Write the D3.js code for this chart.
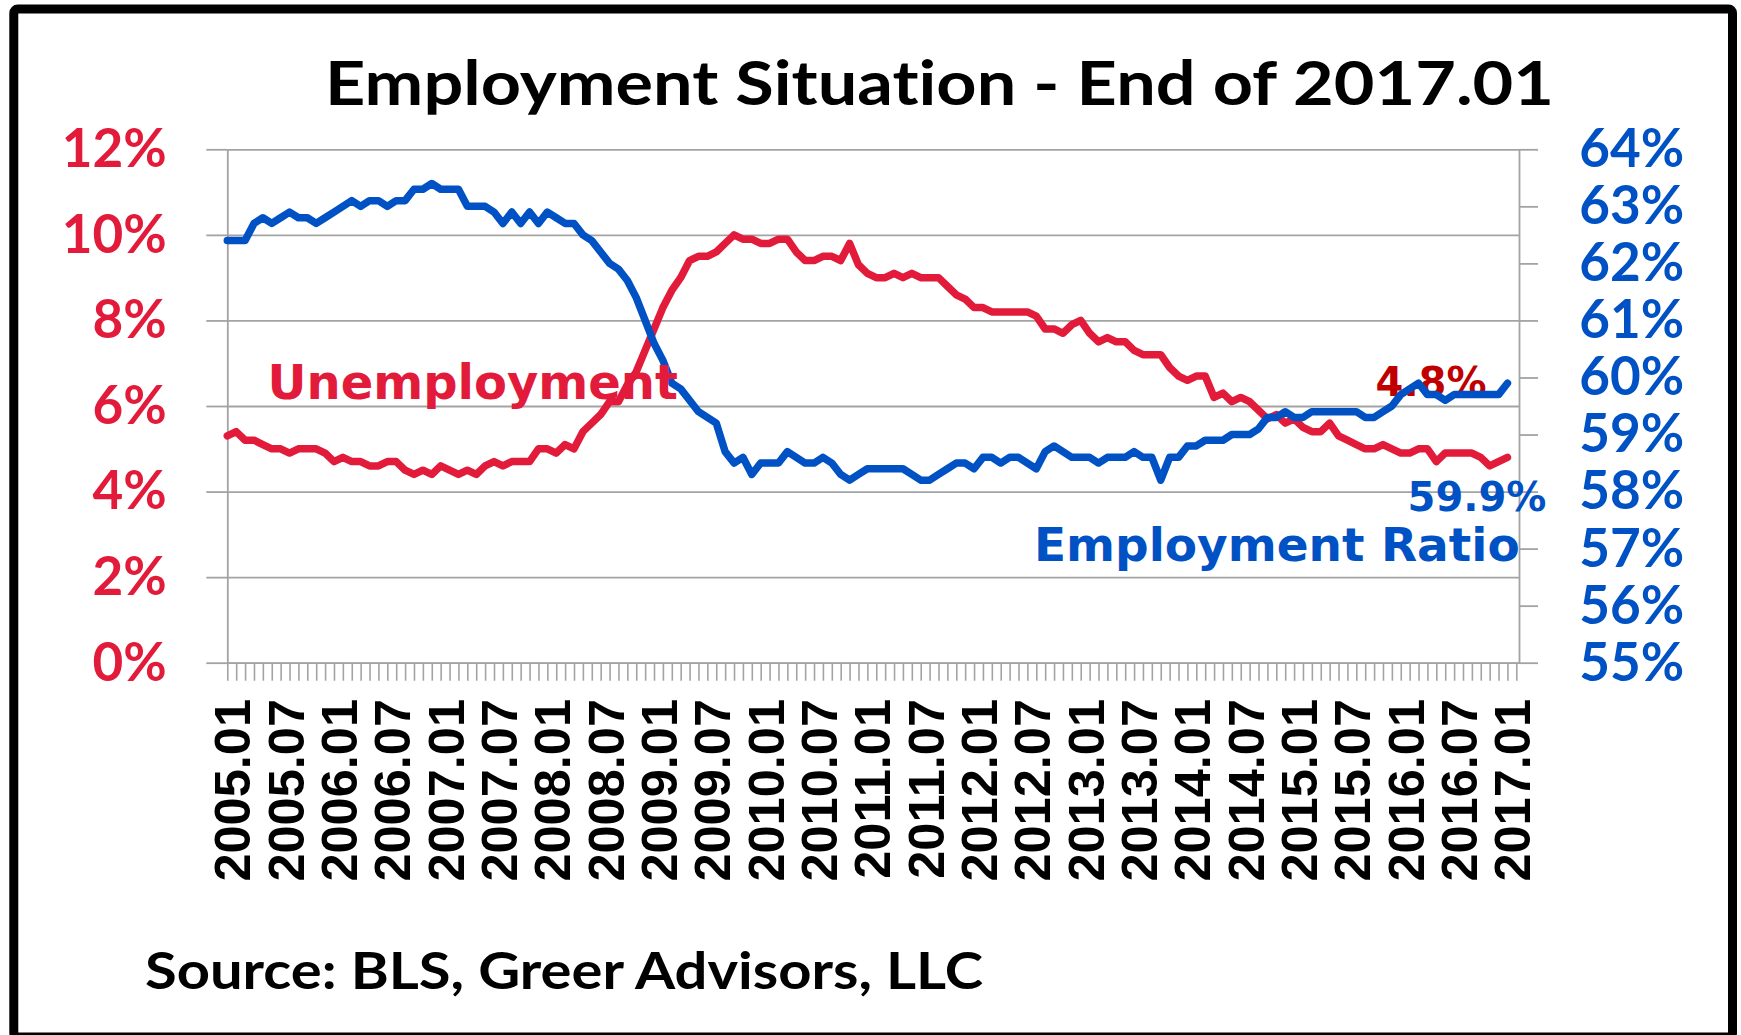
<!DOCTYPE html>
<html>
<head>
<meta charset="utf-8">
<script src="https://cdn.jsdelivr.net/npm/d3@7"></script>
<style>
  html, body { margin: 0; padding: 0; background: #fff; }
  svg { display: block; }
  text { font-variant-ligatures: none; }
</style>
</head>
<body>
<svg id="chart" width="1741" height="1035"></svg>
<script>
// colours
const RED = '#e31b3b';
const DARK_RED = '#c00000';
const BLUE = '#0052c4';
const GRID = '#a3a3a3';

// monthly categories, 2005.01 .. 2017.01
const categories = d3.range(2005, 2018)
  .flatMap(y => d3.range(1, 13).map(m => `${y}.${String(m).padStart(2, '0')}`))
  .slice(0, 145);

const tickLabels = [
  '2005.01', '2005.07', '2006.01', '2006.07', '2007.01', '2007.07', '2008.01',
  '2008.07', '2009.01', '2009.07', '2010.01', '2010.07', '2011.01', '2011.07',
  '2012.01', '2012.07', '2013.01', '2013.07', '2014.01', '2014.07', '2015.01',
  '2015.07', '2016.01', '2016.07', '2017.01'
];

const leftTicks = [0, 2, 4, 6, 8, 10, 12];
const rightTicks = [55, 56, 57, 58, 59, 60, 61, 62, 63, 64];

// unemployment rate, %
const unemployment = [
  5.3, 5.4, 5.2, 5.2, 5.1, 5.0, 5.0, 4.9, 5.0, 5.0, 5.0, 4.9,
  4.7, 4.8, 4.7, 4.7, 4.6, 4.6, 4.7, 4.7, 4.5, 4.4, 4.5, 4.4,
  4.6, 4.5, 4.4, 4.5, 4.4, 4.6, 4.7, 4.6, 4.7, 4.7, 4.7, 5.0,
  5.0, 4.9, 5.1, 5.0, 5.4, 5.6, 5.8, 6.1, 6.1, 6.5, 6.8, 7.3,
  7.8, 8.3, 8.7, 9.0, 9.4, 9.5, 9.5, 9.6, 9.8, 10.0, 9.9, 9.9,
  9.8, 9.8, 9.9, 9.9, 9.6, 9.4, 9.4, 9.5, 9.5, 9.4, 9.8, 9.3,
  9.1, 9.0, 9.0, 9.1, 9.0, 9.1, 9.0, 9.0, 9.0, 8.8, 8.6, 8.5,
  8.3, 8.3, 8.2, 8.2, 8.2, 8.2, 8.2, 8.1, 7.8, 7.8, 7.7, 7.9,
  8.0, 7.7, 7.5, 7.6, 7.5, 7.5, 7.3, 7.2, 7.2, 7.2, 6.9, 6.7,
  6.6, 6.7, 6.7, 6.2, 6.3, 6.1, 6.2, 6.1, 5.9, 5.7, 5.8, 5.6,
  5.7, 5.5, 5.4, 5.4, 5.6, 5.3, 5.2, 5.1, 5.0, 5.0, 5.1, 5.0,
  4.9, 4.9, 5.0, 5.0, 4.7, 4.9, 4.9, 4.9, 4.9, 4.8, 4.6, 4.7,
  4.8
];

// employment-population ratio, %
const employmentRatio = [
  62.4, 62.4, 62.4, 62.7, 62.8, 62.7, 62.8, 62.9, 62.8, 62.8, 62.7, 62.8,
  62.9, 63.0, 63.1, 63.0, 63.1, 63.1, 63.0, 63.1, 63.1, 63.3, 63.3, 63.4,
  63.3, 63.3, 63.3, 63.0, 63.0, 63.0, 62.9, 62.7, 62.9, 62.7, 62.9, 62.7,
  62.9, 62.8, 62.7, 62.7, 62.5, 62.4, 62.2, 62.0, 61.9, 61.7, 61.4, 61.0,
  60.6, 60.3, 59.9, 59.8, 59.6, 59.4, 59.3, 59.2, 58.7, 58.5, 58.6, 58.3,
  58.5, 58.5, 58.5, 58.7, 58.6, 58.5, 58.5, 58.6, 58.5, 58.3, 58.2, 58.3,
  58.4, 58.4, 58.4, 58.4, 58.4, 58.3, 58.2, 58.2, 58.3, 58.4, 58.5, 58.5,
  58.4, 58.6, 58.6, 58.5, 58.6, 58.6, 58.5, 58.4, 58.7, 58.8, 58.7, 58.6,
  58.6, 58.6, 58.5, 58.6, 58.6, 58.6, 58.7, 58.6, 58.6, 58.2, 58.6, 58.6,
  58.8, 58.8, 58.9, 58.9, 58.9, 59.0, 59.0, 59.0, 59.1, 59.3, 59.3, 59.4,
  59.3, 59.3, 59.4, 59.4, 59.4, 59.4, 59.4, 59.4, 59.3, 59.3, 59.4, 59.5,
  59.7, 59.8, 59.9, 59.7, 59.7, 59.6, 59.7, 59.7, 59.7, 59.7, 59.7, 59.7,
  59.9
];

const svg = d3.select('#chart');
const plot = { left: 227.3, right: 1519, top: 149.3, bottom: 662.7 };

svg.append('rect')
  .attr('width', 1741).attr('height', 1035)
  .attr('fill', '#fff');

// outer frame
svg.append('rect')
  .attr('x', 13.8).attr('y', 9)
  .attr('width', 1718.7).attr('height', 1028)
  .attr('rx', 4)
  .attr('fill', 'none')
  .attr('stroke', '#000')
  .attr('stroke-width', 9);

// scales
const x = d3.scaleLinear().domain([0, 145.3]).range([plot.left, plot.right]);
const yLeft = d3.scaleLinear().domain([0, 12]).range([plot.bottom, plot.top]);
const yRight = d3.scaleLinear().domain([55, 64]).range([plot.bottom, plot.top]);

// horizontal gridlines
svg.append('g')
  .attr('transform', `translate(${plot.left},0)`)
  .call(d3.axisLeft(yLeft).tickValues(leftTicks)
    .tickSize(-(plot.right - plot.left)).tickFormat(''))
  .call(g => g.select('.domain').remove())
  .selectAll('line')
  .attr('stroke', GRID)
  .attr('stroke-width', 1.8);

function styleAxis(g, colour) {
  g.attr('font-family', 'Lato, "Open Sans", sans-serif')
    .attr('font-size', 53)
    .attr('font-weight', 700);
  g.selectAll('.domain, line').attr('stroke', GRID).attr('stroke-width', 1.8);
  g.selectAll('text').attr('fill', colour).attr('dy', 17.4);
}

// left axis
svg.append('g')
  .attr('transform', `translate(${plot.left},0)`)
  .call(d3.axisLeft(yLeft).tickValues(leftTicks)
    .tickSize(21).tickSizeOuter(0).tickPadding(39.6)
    .tickFormat(d => d + '%'))
  .call(g => styleAxis(g, RED));

// right axis
svg.append('g')
  .attr('transform', `translate(${plot.right},0)`)
  .call(d3.axisRight(yRight).tickValues(rightTicks)
    .tickSize(19).tickSizeOuter(0).tickPadding(41.3)
    .tickFormat(d => d + '%'))
  .call(g => styleAxis(g, BLUE));

// category axis: one tick per month
svg.append('g')
  .attr('transform', `translate(0,${plot.bottom})`)
  .call(d3.axisBottom(x).tickValues(d3.range(146))
    .tickSize(18).tickSizeOuter(0).tickFormat(''))
  .call(g => g.selectAll('.domain, line').attr('stroke', GRID).attr('stroke-width', 1.6));

svg.append('g')
  .attr('font-family', '"Liberation Sans", Arial, sans-serif')
  .attr('font-weight', 700)
  .attr('font-size', 50.5)
  .selectAll('text')
  .data(tickLabels)
  .join('text')
  .attr('transform', d => `translate(${x(categories.indexOf(d)) + 23},699) rotate(-90)`)
  .attr('text-anchor', 'end')
  .attr('fill', '#000')
  .text(d => d);

// series
const redLine = d3.line().x((d, i) => x(i)).y(d => yLeft(d));
const blueLine = d3.line().x((d, i) => x(i)).y(d => yRight(d));

svg.append('path')
  .datum(unemployment)
  .attr('d', redLine)
  .attr('fill', 'none')
  .attr('stroke', RED)
  .attr('stroke-width', 7.5)
  .attr('stroke-linejoin', 'round')
  .attr('stroke-linecap', 'round');

svg.append('text')
  .attr('x', 1375.6).attr('y', 395.5)
  .attr('font-family', '"DejaVu Sans", Verdana, sans-serif')
  .attr('font-weight', 700)
  .attr('font-size', 40)
  .attr('fill', DARK_RED)
  .text(unemployment[unemployment.length - 1].toFixed(1) + '%');

svg.append('path')
  .datum(employmentRatio)
  .attr('d', blueLine)
  .attr('fill', 'none')
  .attr('stroke', BLUE)
  .attr('stroke-width', 7.5)
  .attr('stroke-linejoin', 'round')
  .attr('stroke-linecap', 'round');

svg.append('text')
  .attr('x', 1407.6).attr('y', 511)
  .attr('font-family', '"DejaVu Sans", Verdana, sans-serif')
  .attr('font-weight', 700)
  .attr('font-size', 40)
  .attr('fill', BLUE)
  .text(employmentRatio[employmentRatio.length - 1].toFixed(1) + '%');

// series names
svg.append('text')
  .attr('x', 267.5).attr('y', 398.6)
  .attr('font-family', '"DejaVu Sans", Verdana, sans-serif')
  .attr('font-weight', 700)
  .attr('font-size', 48)
  .attr('fill', RED)
  .text('Unemployment');

svg.append('text')
  .attr('x', 1034).attr('y', 561)
  .attr('font-family', '"DejaVu Sans", Verdana, sans-serif')
  .attr('font-weight', 700)
  .attr('font-size', 47)
  .attr('fill', BLUE)
  .text('Employment Ratio');

// title and source
svg.append('text')
  .attr('x', 325).attr('y', 105)
  .attr('font-family', 'Lato, "Open Sans", sans-serif')
  .attr('font-weight', 700)
  .attr('font-size', 61)
  .attr('textLength', 1229)
  .attr('lengthAdjust', 'spacingAndGlyphs')
  .attr('fill', '#000')
  .text('Employment Situation - End of 2017.01');

svg.append('text')
  .attr('x', 145).attr('y', 989)
  .attr('font-family', 'Lato, "Open Sans", sans-serif')
  .attr('font-weight', 700)
  .attr('font-size', 51)
  .attr('textLength', 838)
  .attr('lengthAdjust', 'spacingAndGlyphs')
  .attr('fill', '#000')
  .text('Source: BLS, Greer Advisors, LLC');
</script>
</body>
</html>
